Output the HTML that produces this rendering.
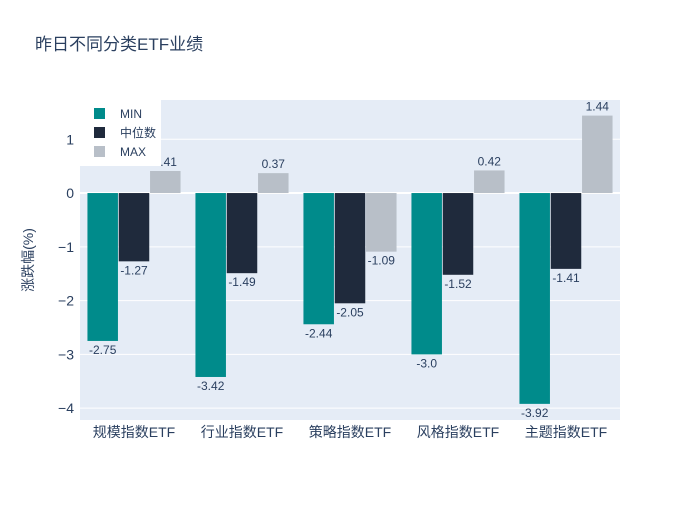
<!DOCTYPE html>
<html><head><meta charset="utf-8"><style>
body{margin:0;background:#fff;font-family:"Liberation Sans","Noto Sans CJK SC",sans-serif}
text{font-family:"Liberation Sans","Noto Sans CJK SC",sans-serif}
</style></head><body>
<svg id="chart" width="700" height="500" xmlns="http://www.w3.org/2000/svg">
<rect width="700" height="500" fill="#fff"/>
<text x="35" y="50" font-size="17" fill="#2a3f5f">昨日不同分类ETF业绩</text>
<rect x="80" y="100" width="540" height="320" fill="#E5ECF6"/>
<g id="grid"></g><g id="bars"></g><g id="labels"></g><g id="axes"></g>
<text transform="translate(33,260) rotate(-90)" text-anchor="middle" font-size="14" fill="#2a3f5f">涨跌幅(%)</text>
<g id="legend"></g>
</svg>
<script>
const categories=["规模指数ETF","行业指数ETF","策略指数ETF","风格指数ETF","主题指数ETF"];
const seriesNames=["MIN","中位数","MAX"];
const minVals=[-2.75,-3.42,-2.44,-3.0,-3.92];
const medVals=[-1.27,-1.49,-2.05,-1.52,-1.41];
const maxVals=[0.41,0.37,-1.09,0.42,1.44];
const minLabels=["-2.75","-3.42","-2.44","-3.0","-3.92"];
const medLabels=["-1.27","-1.49","-2.05","-1.52","-1.41"];
const maxLabels=["0.41","0.37","-1.09","0.42","1.44"];
const yTicks=[1,0,-1,-2,-3,-4];
const yTickLabels=["1","0","−1","−2","−3","−4"];
const NS="http://www.w3.org/2000/svg";
const X0=80,W=540,Y0=100,H=320,yMax=1.73,yMin=-4.22;
const y=v=>Y0+(yMax-v)/(yMax-yMin)*H;
const band=W/categories.length;
const xc=i=>X0+band*(i+0.5);
const colors=["#008B8B","#1F2A3C","#B8BFC8"];
function mk(tag,attrs,parent){const e=document.createElementNS(NS,tag);for(const k in attrs)e.setAttribute(k,attrs[k]);document.getElementById(parent).appendChild(e);return e;}
yTicks.forEach((t,i)=>{
 const l=mk("line",{x1:X0,x2:X0+W,y1:y(t),y2:y(t),stroke:"#fff","stroke-width":t===0?2:1},"grid");
 
 
 const tx=mk("text",{x:X0-6,y:y(t)+5,"text-anchor":"end","font-size":14,fill:"#2a3f5f"},"axes");
 tx.textContent=yTickLabels[i];
 
 
});
const all=[minVals,medVals,maxVals],labs=[minLabels,medLabels,maxLabels];
const bw=30.5,gap=0.8;
categories.forEach((c,i)=>{
 const tx=mk("text",{x:xc(i),y:437,"text-anchor":"middle","font-size":14,fill:"#2a3f5f"},"axes");
 tx.textContent=c;
 
 
 all.forEach((s,j)=>{
  const v=s[i];const left=xc(i)+(j-1.5)*bw+(j-1)*gap;
  const top=Math.min(y(v),y(0)),h=Math.abs(y(v)-y(0));
  const r=mk("rect",{x:left,y:top,width:bw,height:h,fill:colors[j]},"bars");
  
  
  const ly=v>=0?y(v)-5:y(v)+13;
  const t=mk("text",{x:left+bw/2,y:ly,"text-anchor":"middle","font-size":12,fill:"#2a3f5f"},"labels");
  t.textContent=labs[j][i];
  
  
 });
});
const lb=mk("rect",{x:80,y:100,width:81,height:66,fill:"#fff"},"legend");


seriesNames.forEach((n,j)=>{
 const sw=mk("rect",{x:94,y:108+j*19,width:11,height:11,fill:colors[j]},"legend");
 
 
 const t=mk("text",{x:120,y:118+j*19,"font-size":12,fill:"#2a3f5f"},"legend");
 t.textContent=n;
 
 
});
</script>
</body></html>
